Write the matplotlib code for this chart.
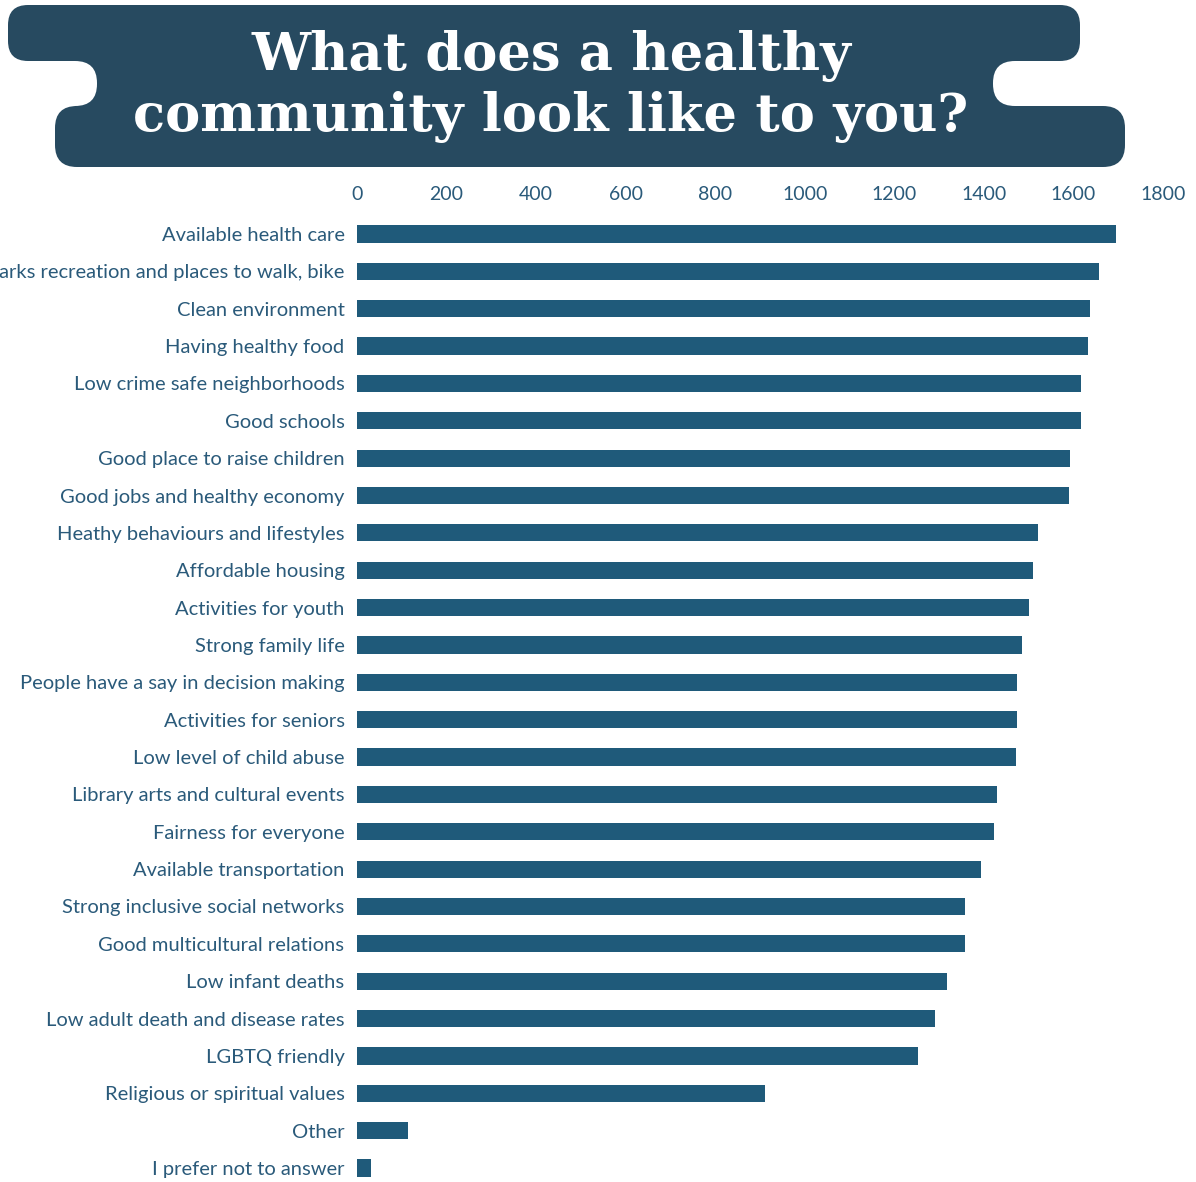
import matplotlib
matplotlib.use("Agg")
import matplotlib.pyplot as plt
from matplotlib.patches import FancyBboxPatch, Rectangle

# Survey answers, top to bottom
categories = [
    "Available health care",
    "Parks recreation and places to walk, bike",
    "Clean environment",
    "Having healthy food",
    "Low crime safe neighborhoods",
    "Good schools",
    "Good place to raise children",
    "Good jobs and healthy economy",
    "Heathy behaviours and lifestyles",
    "Affordable housing",
    "Activities for youth",
    "Strong family life",
    "People have a say in decision making",
    "Activities for seniors",
    "Low level of child abuse",
    "Library arts and cultural events",
    "Fairness for everyone",
    "Available transportation",
    "Strong inclusive social networks",
    "Good multicultural relations",
    "Low infant deaths",
    "Low adult death and disease rates",
    "LGBTQ friendly",
    "Religious or spiritual values",
    "Other",
    "I prefer not to answer",
]
counts = [1696, 1658, 1638, 1632, 1616, 1616, 1592, 1589, 1520, 1509, 1500,
          1484, 1473, 1473, 1471, 1429, 1422, 1393, 1357, 1357, 1317, 1290,
          1252, 911, 114, 31]
xticks = [0, 200, 400, 600, 800, 1000, 1200, 1400, 1600, 1800]

BAR = "#1f5a7a"
TEXT = "#2a5a7a"
BANNER = "#274a60"

W, H = 1196, 1182
fig = plt.figure(figsize=(W / 100, H / 100), dpi=100)

# --- title banner (figure pixel coords via a full-figure axes) ---
bg = fig.add_axes([0, 0, 1, 1])
bg.set_xlim(0, W)
bg.set_ylim(H, 0)
bg.axis("off")


def rbox(x0, y0, x1, y1, r, color):
    bg.add_patch(FancyBboxPatch((x0 + r, y0 + r), x1 - x0 - 2 * r, y1 - y0 - 2 * r,
                                boxstyle=f"round,pad={r}", fc=color, ec="none"))


rbox(8, 5, 1080, 61, 20, BANNER)
rbox(55, 106, 1125, 167, 22, BANNER)
bg.add_patch(Rectangle((75, 50), 940, 68, fc=BANNER, ec="none"))
# white rounded notches on both sides
rbox(-80, 61, 97, 106, 22, "white")
rbox(993, 61, 1250, 106, 22, "white")

bg.text(551, 56, "What does a healthy", ha="center", va="center", color="white",
        fontsize=38, fontweight="bold", family="DejaVu Serif")
bg.text(551, 117, "community look like to you?", ha="center", va="center", color="white",
        fontsize=38, fontweight="bold", family="DejaVu Serif")

# --- bar chart ---
x0, x1 = 357, 1163
row = 37.36
top_px = 234 - row / 2
ax = fig.add_axes([x0 / W, 0, (x1 - x0) / W, 1 - top_px / H])
ypos = list(range(len(categories)))
ax.barh(ypos, counts, height=0.46, color=BAR)
ax.set_xlim(0, 1800)
ax.set_ylim(-0.5 + (H - top_px) / row, -0.5)
ax.set_yticks(ypos)
ax.set_yticklabels(categories, fontsize=14.5, color=TEXT, family="Lato")
ax.set_xticks(xticks)
ax.set_xticklabels([str(t) for t in xticks], fontsize=14, color=TEXT, family="Lato")
ax.xaxis.tick_top()
ax.tick_params(axis="both", length=0)
ax.tick_params(axis="y", pad=9)
ax.tick_params(axis="x", pad=9)
for s in ax.spines.values():
    s.set_visible(False)
ax.patch.set_alpha(0)

fig.savefig("out.png", dpi=100)
